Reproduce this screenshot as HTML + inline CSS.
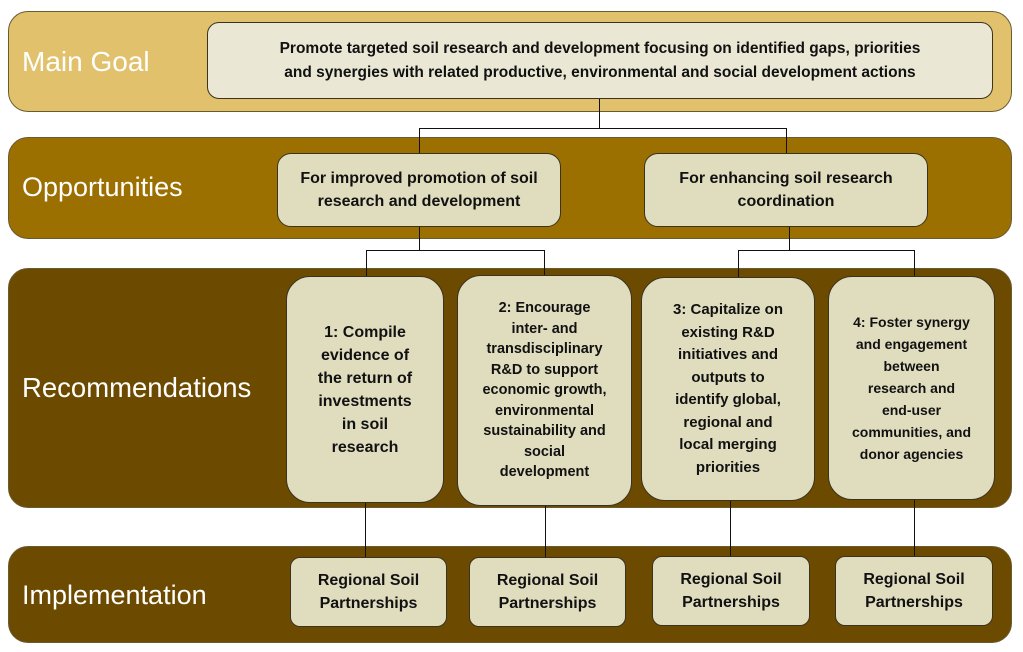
<!DOCTYPE html>
<html><head><style>
body{margin:0;width:1023px;height:652px;background:#fff;position:relative;font-family:"Liberation Sans",sans-serif;overflow:hidden}
.band{position:absolute;left:8px;width:1004px;border-radius:20px;border:1px solid #6a5a30;box-sizing:border-box}
.lbl{position:absolute;left:22px;color:#fff;font-size:27px;}
.box{position:absolute;background:#e0ddbf;border:1.5px solid #3a3320;box-sizing:border-box;display:flex;align-items:center;justify-content:center;text-align:center;font-weight:bold;font-size:14px;line-height:21px;color:#111;border-radius:14px}
.l{position:absolute;background:#111}
</style></head><body>
<div class="band" style="top:11px;height:101px;background:#e1c16b"></div>
<div class="band" style="top:137px;height:102px;background:#9b7000"></div>
<div class="band" style="top:268px;height:240px;background:#6c4a00"></div>
<div class="band" style="top:546px;height:97px;background:#6c4a00"></div>
<div class="lbl" style="top:46px;font-size:28px">Main Goal</div>
<div class="lbl" style="top:172px">Opportunities</div>
<div class="lbl" style="top:372px;font-size:27.5px">Recommendations</div>
<div class="lbl" style="top:580px">Implementation</div>

<div class="l" style="left:599px;top:98px;width:1px;height:30px"></div>
<div class="l" style="left:419px;top:128px;width:368px;height:1px"></div>
<div class="l" style="left:419px;top:128px;width:1px;height:25px"></div>
<div class="l" style="left:786px;top:128px;width:1px;height:25px"></div>
<div class="l" style="left:419px;top:227px;width:1px;height:23px"></div>
<div class="l" style="left:366px;top:250px;width:179px;height:1px"></div>
<div class="l" style="left:366px;top:250px;width:1px;height:27px"></div>
<div class="l" style="left:544px;top:250px;width:1px;height:26px"></div>
<div class="l" style="left:789px;top:227px;width:1px;height:23px"></div>
<div class="l" style="left:738px;top:250px;width:177px;height:1px"></div>
<div class="l" style="left:738px;top:250px;width:1px;height:28px"></div>
<div class="l" style="left:914px;top:250px;width:1px;height:27px"></div>
<div class="l" style="left:365px;top:500px;width:1px;height:58px"></div>
<div class="l" style="left:545px;top:500px;width:1px;height:58px"></div>
<div class="l" style="left:730px;top:500px;width:1px;height:58px"></div>
<div class="l" style="left:914px;top:500px;width:1px;height:58px"></div>

<div class="box" style="left:207px;top:22px;width:786px;height:77px;background:#eae8d5;font-size:15.5px;line-height:24px;border-radius:12px">Promote targeted soil research and development focusing on identified gaps, priorities<br>and synergies with related productive, environmental and social development actions</div>
<div class="box" style="left:277px;top:153px;width:284px;height:74px;font-size:16px;line-height:23px">For improved promotion of soil<br>research and development</div>
<div class="box" style="left:644px;top:153px;width:284px;height:74px;font-size:16px;line-height:23px">For enhancing soil research<br>coordination</div>

<div class="box" style="left:286px;top:276px;width:158px;height:227px;font-size:16px;line-height:23px;border-radius:24px">1: Compile<br>evidence of<br>the return of<br>investments<br>in soil<br>research</div>
<div class="box" style="left:457px;top:275px;width:175px;height:231px;font-size:14.5px;line-height:20.5px;border-radius:24px">2: Encourage<br>inter- and<br>transdisciplinary<br>R&amp;D to support<br>economic growth,<br>environmental<br>sustainability and<br>social<br>development</div>
<div class="box" style="left:641px;top:277px;width:174px;height:224px;font-size:15px;line-height:22.5px;border-radius:24px">3: Capitalize on<br>existing R&amp;D<br>initiatives and<br>outputs to<br>identify global,<br>regional and<br>local merging<br>priorities</div>
<div class="box" style="left:828px;top:276px;width:167px;height:224px;font-size:14px;line-height:22px;border-radius:24px">4: Foster synergy<br>and engagement<br>between<br>research and<br>end-user<br>communities, and<br>donor agencies</div>

<div class="box" style="left:290px;top:557px;width:157px;height:70px;font-size:16px;line-height:23px;border-radius:10px">Regional Soil<br>Partnerships</div>
<div class="box" style="left:469px;top:557px;width:157px;height:70px;font-size:16px;line-height:23px;border-radius:10px">Regional Soil<br>Partnerships</div>
<div class="box" style="left:652px;top:556px;width:158px;height:70px;font-size:16px;line-height:23px;border-radius:10px">Regional Soil<br>Partnerships</div>
<div class="box" style="left:835px;top:556px;width:158px;height:70px;font-size:16px;line-height:23px;border-radius:10px">Regional Soil<br>Partnerships</div>
</body></html>
